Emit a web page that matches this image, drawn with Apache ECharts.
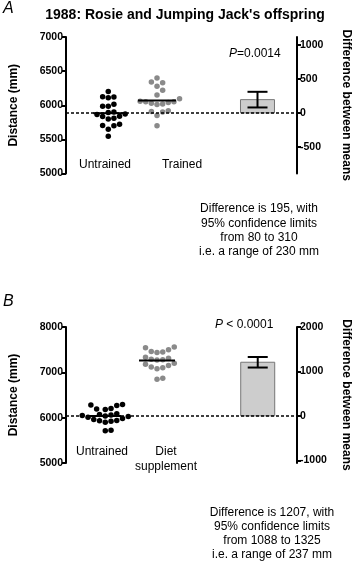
<!DOCTYPE html>
<html>
<head>
<meta charset="utf-8">
<script src="https://cdn.jsdelivr.net/npm/echarts@6/dist/echarts.min.js"></script>
<style>html,body{margin:0;background:#fff}#chart{width:360px;height:561px}</style>
</head>
<body>
<div id="chart"></div>
<script>
// panel A: 1988, Rosie and Jumping Jack's offspring (mm)
const untrainedA = [6200, 6125, 6110, 6120, 6015, 5985, 5985, 5900, 5895, 5870, 5865, 5840, 5835, 5810, 5800, 5720, 5705, 5700, 5650, 5545];
const trainedA = [6400, 6340, 6330, 6280, 6220, 6150, 6095, 6050, 6040, 6030, 6020, 6010, 6060, 6050, 5920, 5910, 5900, 5850, 5700];
const diffA = [195, 80, 310]; // difference, lower and upper 95% limit
// panel B: untrained vs diet supplement
const untrainedB = [6290, 6280, 6270, 6200, 6190, 6180, 6085, 6070, 6060, 6050, 6035, 6025, 6010, 5980, 5960, 5940, 5930, 5920, 5900, 5720, 5710];
const dietB = [7560, 7540, 7500, 7460, 7450, 7440, 7330, 7310, 7290, 7280, 7270, 7200, 7180, 7150, 7120, 7100, 7080, 6870, 6850];
const diffB = [1207, 1088, 1325];
const rightTicksA = [-500, 0, 500, 1000];
const rightTicksB = [-1000, 0, 1000, 2000];

const FONT = '"Liberation Sans", Arial, sans-serif';
// grid geometry (px)
const gA = {left: 60, width: 246, top: 37, height: 136.5, ymin: 5000, ymax: 7000};
const gB = {left: 60, width: 241, top: 327, height: 136, ymin: 5000, ymax: 8000};

// simple beeswarm: spread equal-ish values sideways so dots don't overlap
function swarm(values, center, g, d) {
  const pxY = g.height / (g.ymax - g.ymin);
  const placed = [];
  const out = [];
  values.slice().sort((a, b) => a - b).forEach(v => {
    const py = v * pxY;
    let off = 0;
    for (let k = 0; k < 40; k++) {
      off = (k === 0) ? 0 : Math.ceil(k / 2) * d * (k % 2 ? 1 : -1) * 0.5;
      if (placed.every(p => Math.hypot(p[0] - off, p[1] - py) >= d)) break;
    }
    placed.push([off, py]);
    out.push([center + off / g.width, v]);
  });
  return out;
}
const mean = a => a.reduce((s, v) => s + v, 0) / a.length;

function meanSeries(xi, yi, pts, hw) {
  return {
    type: 'custom', xAxisIndex: xi, yAxisIndex: yi, z: 5, data: pts,
    renderItem(params, api) {
      const c = api.coord([api.value(0), api.value(1)]);
      return {type: 'line', shape: {x1: c[0] - hw, y1: c[1], x2: c[0] + hw, y2: c[1]},
        style: {stroke: '#000', lineWidth: 2}};
    }
  };
}
function diffSeries(xi, yi, x, d) {
  return {
    type: 'custom', xAxisIndex: xi, yAxisIndex: yi, z: 3,
    data: [[x, d[0], d[1], d[2]]],
    renderItem(params, api) {
      const px = api.value(0);
      const b = api.coord([px, 0]);
      const t = api.coord([px, api.value(1)]);
      const lo = api.coord([px, api.value(2)]);
      const hi = api.coord([px, api.value(3)]);
      const cap = 10;
      return {type: 'group', children: [
        {type: 'rect', shape: {x: b[0] - 17, y: t[1], width: 34, height: b[1] - t[1]},
          style: {fill: '#cdcdcd', stroke: '#777', lineWidth: 1}},
        {type: 'line', shape: {x1: lo[0], y1: lo[1], x2: hi[0], y2: hi[1]}, style: {stroke: '#000', lineWidth: 2}},
        {type: 'line', shape: {x1: lo[0] - cap, y1: lo[1], x2: lo[0] + cap, y2: lo[1]}, style: {stroke: '#000', lineWidth: 2}},
        {type: 'line', shape: {x1: hi[0] - cap, y1: hi[1], x2: hi[0] + cap, y2: hi[1]}, style: {stroke: '#000', lineWidth: 2}}
      ]};
    }
  };
}
function zeroLine(xi, yi) {
  return {type: 'line', xAxisIndex: xi, yAxisIndex: yi, data: [[0, 0], [1, 0]], symbol: 'none', z: 4,
    lineStyle: {color: '#000', width: 1.5, type: [3, 2]}, silent: true};
}
function dots(xi, yi, pts, color) {
  return {type: 'scatter', xAxisIndex: xi, yAxisIndex: yi, symbolSize: 5.5,
    itemStyle: {color: color, opacity: 1}, data: pts};
}

const axLine = {show: true, lineStyle: {color: '#000', width: 2}};
const axTick = {show: true, length: 4, lineStyle: {color: '#000', width: 2}};
const axLabel = {color: '#000', fontSize: 10.5, fontWeight: 'bold', fontFamily: FONT, margin: 3,
  formatter: v => String(v)};
const nameStyle = {color: '#000', fontSize: 12, fontWeight: 'bold', fontFamily: FONT};

function leftAxis(gi, g, interval) {
  return {type: 'value', gridIndex: gi, min: g.ymin, max: g.ymax, interval: interval,
    axisLine: axLine, axisTick: axTick, axisLabel: axLabel, splitLine: {show: false},
    name: 'Distance (mm)', nameLocation: 'middle', nameGap: 46, nameTextStyle: nameStyle};
}
function rightAxis(gi, min, max, ticks) {
  return {type: 'value', gridIndex: gi, position: 'right', min: min, max: max,
    axisLine: axLine,
    axisTick: Object.assign({}, axTick, {customValues: ticks}),
    axisLabel: Object.assign({}, axLabel, {customValues: ticks}),
    splitLine: {show: false},
    name: 'Difference between means', nameLocation: 'middle', nameRotate: -90, nameGap: 43,
    nameTextStyle: nameStyle};
}

const xA = {u: 0.183, t: 0.394, bar: 0.829};
const xB = {u: 0.17, t: 0.394, bar: 0.83};

const chart = echarts.init(document.getElementById('chart'));
chart.setOption({
  animation: false,
  grid: [
    {left: gA.left, width: gA.width, top: gA.top, height: gA.height},
    {left: gB.left, width: gB.width, top: gB.top, height: gB.height}
  ],
  xAxis: [
    {type: 'value', gridIndex: 0, min: 0, max: 1, show: false},
    {type: 'value', gridIndex: 1, min: 0, max: 1, show: false}
  ],
  yAxis: [
    leftAxis(0, gA, 500),
    rightAxis(0, -890, 1115, rightTicksA),
    leftAxis(1, gB, 1000),
    rightAxis(1, -1060, 2000, rightTicksB)
  ],
  series: [
    zeroLine(0, 1),
    dots(0, 0, swarm(untrainedA, xA.u, gA, 6), '#000'),
    dots(0, 0, swarm(trainedA, xA.t, gA, 6), '#8a8a8a'),
    meanSeries(0, 0, [[xA.u, mean(untrainedA)]], 15),
    meanSeries(0, 0, [[xA.t, mean(trainedA)]], 19),
    diffSeries(0, 1, xA.bar, diffA),

    zeroLine(1, 3),
    dots(1, 2, swarm(untrainedB, xB.u, gB, 6), '#000'),
    dots(1, 2, swarm(dietB, xB.t, gB, 6), '#8a8a8a'),
    meanSeries(1, 2, [[xB.u, mean(untrainedB)]], 16),
    meanSeries(1, 2, [[xB.t, mean(dietB)]], 18),
    diffSeries(1, 3, xB.bar, diffB)
  ],
  graphic: [
    {type: 'text', left: 3, top: 1, style: {text: 'A', font: 'italic 16px ' + FONT, fill: '#000'}},
    {type: 'text', x: 185, y: 15, style: {text: "1988: Rosie and Jumping Jack's offspring", font: 'bold 14px ' + FONT,
      fill: '#000', align: 'center', verticalAlign: 'middle'}},
    {type: 'text', x: 229, y: 54, style: {text: '{i|P}=0.0014', font: '12px ' + FONT, fill: '#000', verticalAlign: 'middle',
      rich: {i: {fontStyle: 'italic', fontSize: 12, fontFamily: FONT}}}},
    {type: 'text', x: 105, y: 165, style: {text: 'Untrained', font: '12px ' + FONT, fill: '#000', align: 'center', verticalAlign: 'middle'}},
    {type: 'text', x: 182, y: 165, style: {text: 'Trained', font: '12px ' + FONT, fill: '#000', align: 'center', verticalAlign: 'middle'}},
    {type: 'text', x: 259, y: 202, style: {
      text: 'Difference is 195, with\n95% confidence limits\nfrom 80 to 310\ni.e. a range of 230 mm',
      font: '12px ' + FONT, lineHeight: 14.2, fill: '#000', align: 'center'}},

    {type: 'text', left: 3, top: 294, style: {text: 'B', font: 'italic 16px ' + FONT, fill: '#000'}},
    {type: 'text', x: 215, y: 325, style: {text: '{i|P} < 0.0001', font: '12px ' + FONT, fill: '#000', verticalAlign: 'middle',
      rich: {i: {fontStyle: 'italic', fontSize: 12, fontFamily: FONT}}}},
    {type: 'text', x: 102, y: 452, style: {text: 'Untrained', font: '12px ' + FONT, fill: '#000', align: 'center', verticalAlign: 'middle'}},
    {type: 'text', x: 166, y: 459, style: {text: 'Diet\nsupplement', font: '12px ' + FONT, lineHeight: 14.5, fill: '#000', align: 'center', verticalAlign: 'middle'}},
    {type: 'text', x: 272, y: 506, style: {
      text: 'Difference is 1207, with\n95% confidence limits\nfrom 1088 to 1325\ni.e. a range of 237 mm',
      font: '12px ' + FONT, lineHeight: 14, fill: '#000', align: 'center'}}
  ]
});
</script>
</body>
</html>
